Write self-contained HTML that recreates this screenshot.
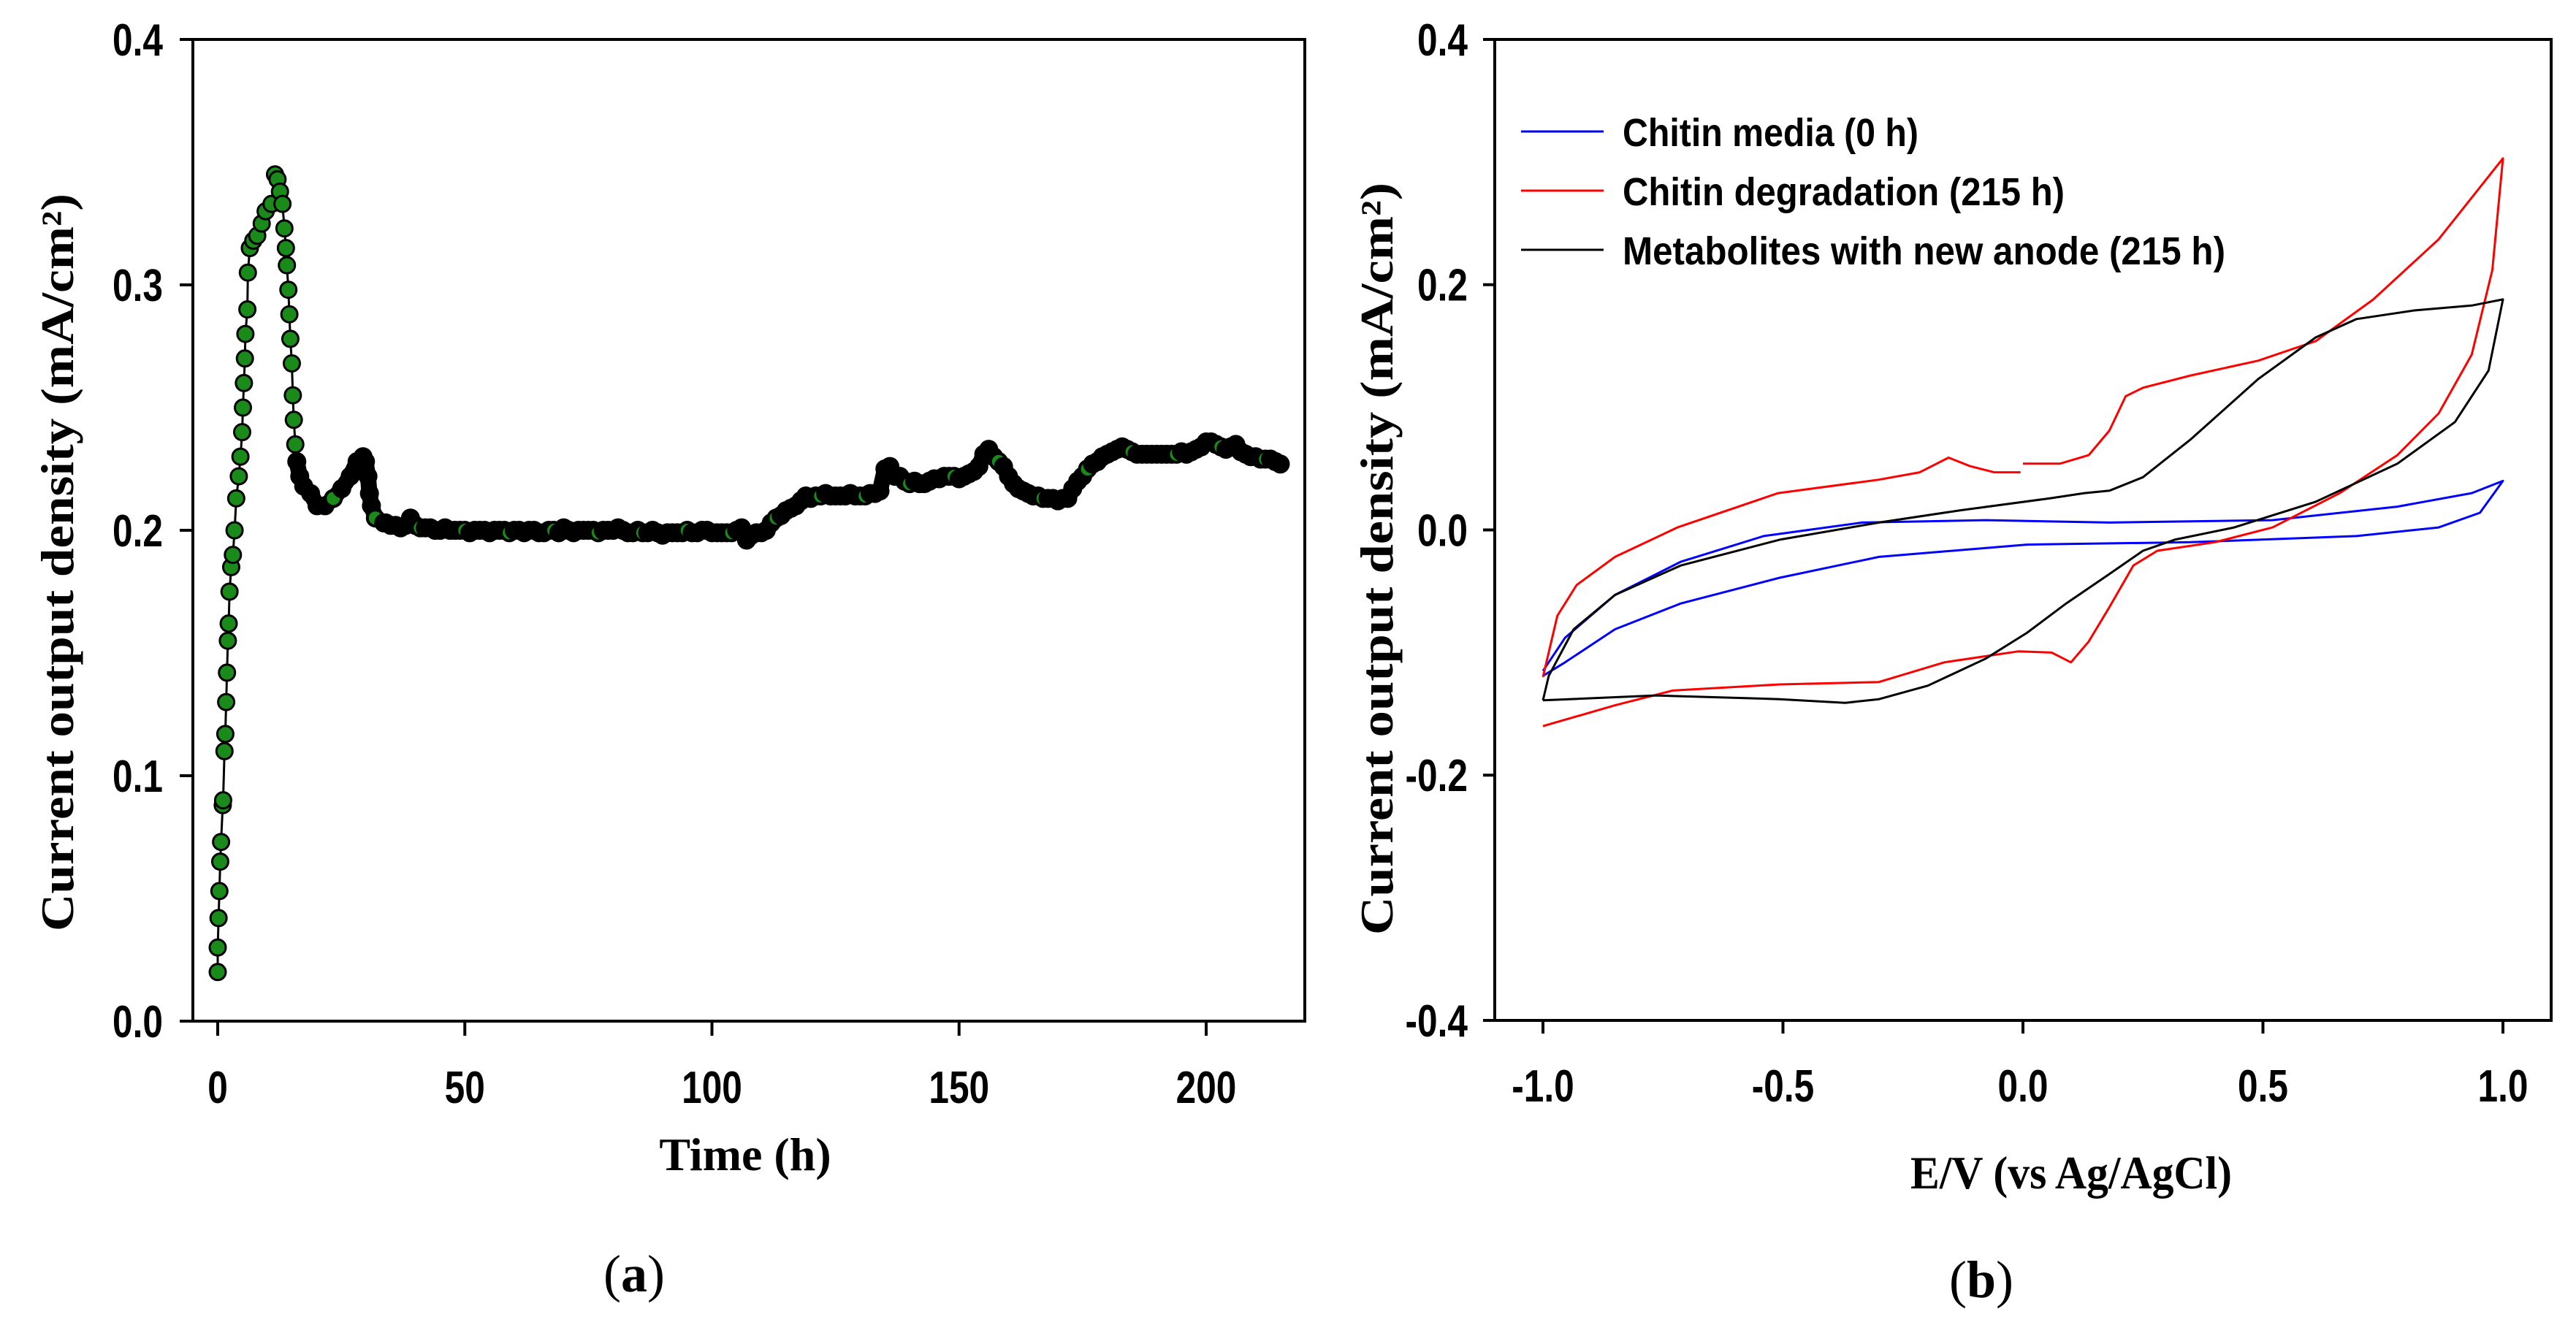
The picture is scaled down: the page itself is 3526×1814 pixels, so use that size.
<!DOCTYPE html>
<html><head><meta charset="utf-8"><style>
html,body{margin:0;padding:0;background:#fff;}
svg{display:block;}
.tk{font-family:"Liberation Sans",sans-serif;font-weight:bold;font-size:62px;fill:#000;}
.lg{font-family:"Liberation Sans",sans-serif;font-weight:bold;font-size:54px;fill:#000;}
.ti{font-family:"Liberation Serif",serif;font-weight:bold;font-size:64px;fill:#000;}
.cap{font-family:"Liberation Serif",serif;font-size:72px;fill:#000;}
</style></head><body>
<svg id="fig" width="3526" height="1814" viewBox="0 0 3526 1814" xmlns="http://www.w3.org/2000/svg">
<g id="pa"></g>
<g id="pb"></g>
</svg>
<script>
// ---------- Panel (a) data ----------
const aTimesEarly = [0,0,0.17,0.34,0.51,0.68,1.02,1.1,1.37,1.54,1.71,1.88,2.05,2.22,2.39,2.73,3.07,3.41,3.75,4.27,4.6,4.95,5.1,5.3,5.5,5.6,6.0,6.1,6.5,7.2,8.0,8.9,9.7,10.9,11.6,12.1,12.6,13.1,13.5,13.8,14.0,14.3,14.5,14.7,15.0,15.2,15.4,15.7,16.0,16.6,17.4,18.8,20.1,21.7,23.4,25.1,26.8,28.2,29.4,29.9,30.4,30.7,31.1,31.9,33.6];
const aValuesEarly = [0.020,0.030,0.042,0.053,0.065,0.073,0.088,0.090,0.110,0.117,0.130,0.142,0.155,0.162,0.175,0.185,0.190,0.200,0.213,0.222,0.230,0.240,0.250,0.260,0.270,0.280,0.290,0.305,0.315,0.318,0.320,0.325,0.330,0.333,0.345,0.343,0.338,0.333,0.323,0.315,0.308,0.298,0.288,0.278,0.268,0.255,0.245,0.235,0.228,0.222,0.218,0.215,0.210,0.210,0.213,0.217,0.222,0.228,0.230,0.228,0.222,0.215,0.210,0.205,0.203];
const aLateStart = 34;
const aValuesLate = [
.203,.202,.202,.201,.202,.205,
.202,.201,.201,.201,.200,.200,.201,.200,.200,.200,
.200,.199,.200,.200,.200,.199,.200,.200,.200,.199,
.200,.200,.199,.200,.200,.199,.199,.200,.200,.199,
.201,.200,.199,.200,.200,.200,.200,.199,.200,.200,
.200,.201,.200,.199,.199,.200,.199,.199,.200,.199,
.198,.199,.199,.199,.199,.200,.199,.199,.200,.200,
.199,.199,.199,.199,.199,.200,.201,.196,.198,.199,
.199,.200,.203,.205,.206,.208,.209,.210,.212,.214,
.213,.214,.214,.215,.214,.214,.214,.214,.215,.214,
.214,.214,.215,.215,.216,.225,.226,.222,.222,.220,
.219,.220,.219,.219,.220,.221,.221,.222,.222,.222,
.221,.222,.223,.224,.226,.231,.233,.230,.228,.226,
.222,.219,.217,.216,.215,.214,.214,.213,.213,.213,
.212,.213,.213,.217,.220,.222,.225,.227,.228,.230,
.231,.232,.233,.234,.233,.232,.231,.231,.231,.231,
.231,.231,.231,.231,.231,.232,.231,.232,.233,.234,
.236,.236,.235,.234,.233,.234,.235,.232,.231,.230,
.230,.229,.229,.229,.228,.227];
const aXTicks = [0,50,100,150,200];
const aYTicks = [0.0,0.1,0.2,0.3,0.4];
const aYTickLabels = ["0.0","0.1","0.2","0.3","0.4"];

// ---------- Panel (b) data ----------
const bXTicks = [-1.0,-0.5,0.0,0.5,1.0];
const bXTickLabels = ["-1.0","-0.5","0.0","0.5","1.0"];
const bYTicks = [-0.4,-0.2,0.0,0.2,0.4];
const bYTickLabels = ["-0.4","-0.2","0.0","0.2","0.4"];
const seriesNames = ["Chitin media (0 h)","Chitin degradation (215 h)","Metabolites with new anode (215 h)"];
const seriesColors = ["#0000ff","#ff0000","#000000"];
const blueE = [-1,-0.954,-0.85,-0.713,-0.54,-0.335,-0.078,0.18,0.52,0.78,0.935,1, 0.952,0.866,0.695,0.35,0.008,-0.30,-0.507,-0.713,-0.85,-0.954,-1];
const blueI = [-0.115,-0.088,-0.053,-0.026,-0.005,0.006,0.008,0.006,0.008,0.019,0.030,0.040, 0.014,0.002,-0.005,-0.010,-0.012,-0.022,-0.039,-0.060,-0.081,-0.108,-0.119];
const redE = [-1,-0.97,-0.93,-0.85,-0.72,-0.51,-0.30,-0.215,-0.155,-0.11,-0.06,-0.005,null,0.0,0.077,0.137,0.18,0.214,0.25,0.35,0.49,0.61,0.73,0.866,1.0, 0.978,0.935,0.866,0.78,0.66,0.52,0.40,0.28,0.23,0.18,0.137,0.10,0.06,-0.009,-0.078,-0.164,-0.30,-0.507,-0.73,-0.85,-1];
const redI = [-0.12,-0.07,-0.045,-0.022,0.002,0.030,0.041,0.047,0.059,0.052,0.047,0.047,null,0.054,0.054,0.061,0.081,0.109,0.116,0.126,0.138,0.154,0.188,0.237,0.303, 0.212,0.143,0.095,0.061,0.030,0.002,-0.010,-0.017,-0.029,-0.063,-0.091,-0.108,-0.100,-0.099,-0.103,-0.108,-0.124,-0.126,-0.131,-0.143,-0.160];
const blackE = [-1,-0.988,-0.936,-0.85,-0.713,-0.507,-0.30,-0.13,0.06,0.128,0.18,0.25,0.35,0.49,0.61,0.695,0.815,0.935,1.0, 0.97,0.9,0.78,0.61,0.44,0.316,0.25,0.18,0.09,0.008,-0.078,-0.198,-0.30,-0.37,-0.507,-0.765,-1];
const blackI = [-0.139,-0.119,-0.081,-0.053,-0.029,-0.008,0.006,0.016,0.026,0.030,0.032,0.043,0.074,0.123,0.157,0.172,0.179,0.183,0.188, 0.130,0.088,0.054,0.023,0.002,-0.008,-0.017,-0.036,-0.060,-0.084,-0.105,-0.127,-0.138,-0.141,-0.138,-0.135,-0.139];

const NS="http://www.w3.org/2000/svg";
function mk(parent,tag,attrs,text){
  const e=document.createElementNS(NS,tag);
  for(const k in attrs) e.setAttribute(k,attrs[k]);
  if(text!==undefined) e.textContent=text;
  parent.appendChild(e); return e;
}

// ---------- Panel (a) ----------
const pa=document.getElementById('pa');
const aL=264,aR=1786,aT=54,aB=1398;
const ax=t=>298+(t-0)*(1651-298)/200;
const ay=v=>aB-(v/0.4)*(aB-aT);
let f=mk(pa,'rect',{x:aL,y:aT,width:aR-aL,height:aB-aT,fill:'none',stroke:'#000','stroke-width':4});


aXTicks.forEach(t=>{
  let l=mk(pa,'line',{x1:ax(t),x2:ax(t),y1:aB,y2:aB+20,stroke:'#000','stroke-width':4});
  
  
  let tx=mk(pa,'text',{class:'tk',x:ax(t),y:1510,'text-anchor':'middle',transform:`translate(${ax(t)},0) scale(0.8,1) translate(${-ax(t)},0)`},String(t));
  
  
});
aYTicks.forEach((v,i)=>{
  let l=mk(pa,'line',{x1:aL-18,x2:aL,y1:ay(v),y2:ay(v),stroke:'#000','stroke-width':4});
  
  
  let tx=mk(pa,'text',{class:'tk',x:223,y:ay(v)+22,'text-anchor':'end',transform:`translate(223,0) scale(0.8,1) translate(-223,0)`},aYTickLabels[i]);
  
  
});
let at=mk(pa,'text',{class:'ti',x:1020,y:1602,'text-anchor':'middle'},'Time  (h)');


let ayt=mk(pa,'text',{class:'ti',x:0,y:0,'text-anchor':'middle',textLength:1010,lengthAdjust:'spacingAndGlyphs',transform:'translate(100,770) rotate(-90)'},'Current  output  density  (mA/cm²)');


let ca=mk(pa,'text',{class:'cap',x:868,y:1768,'text-anchor':'middle'});


mk(ca,'tspan',{},'(');mk(ca,'tspan',{'font-weight':'bold'},'a');mk(ca,'tspan',{},')');

const aT_all=aTimesEarly.concat(aValuesLate.map((_,i)=>aLateStart+i));
const aV_all=aValuesEarly.concat(aValuesLate);
let d='',dBand='';
let started=false;
aT_all.forEach((t,i)=>{
  const p=ax(t).toFixed(1)+' '+ay(aV_all[i]).toFixed(1);
  d+=(i?'L':'M')+p;
  if(t>=16){dBand+=(started?'L':'M')+p;started=true;}
});
let ln=mk(pa,'path',{d:d,fill:'none',stroke:'#000','stroke-width':3});


let band=mk(pa,'path',{d:dBand,fill:'none',stroke:'#000','stroke-width':22,'stroke-linejoin':'round','stroke-linecap':'round'});


const mg=mk(pa,'g',{});


aT_all.forEach((t,i)=>{
  const dense=t>=16;
  const green=!dense||(i%9===0);
  let c=mk(mg,'circle',{cx:ax(t),cy:ay(aV_all[i]),r:dense?11:11,fill:green?'#1a8a1a':'#000',stroke:'#000','stroke-width':dense?4:3});
  
  
});

// ---------- Panel (b) ----------
const pb=document.getElementById('pb');
const bL=2046,bR=3492,bT=54,bB=1397;
const bx=e=>2112+(e+1)*(3426-2112)/2;
const by=v=>bB-((v+0.4)/0.8)*(bB-bT);
let fb=mk(pb,'rect',{x:bL,y:bT,width:bR-bL,height:bB-bT,fill:'none',stroke:'#000','stroke-width':4});


bXTicks.forEach((e,i)=>{
  let l=mk(pb,'line',{x1:bx(e),x2:bx(e),y1:bB,y2:bB+18,stroke:'#000','stroke-width':4});
  
  
  let tx=mk(pb,'text',{class:'tk',x:bx(e),y:1508,'text-anchor':'middle',transform:`translate(${bx(e)},0) scale(0.8,1) translate(${-bx(e)},0)`},bXTickLabels[i]);
  
  
});
bYTicks.forEach((v,i)=>{
  let l=mk(pb,'line',{x1:bL-16,x2:bL,y1:by(v),y2:by(v),stroke:'#000','stroke-width':4});
  
  
  let tx=mk(pb,'text',{class:'tk',x:2009,y:by(v)+22,'text-anchor':'end',transform:`translate(2009,0) scale(0.8,1) translate(-2009,0)`},bYTickLabels[i]);
  
  
});
let bxt=mk(pb,'text',{class:'ti',x:2835,y:1627,'text-anchor':'middle',textLength:440,lengthAdjust:'spacingAndGlyphs'},'E/V (vs Ag/AgCl)');


let byt=mk(pb,'text',{class:'ti',x:0,y:0,'text-anchor':'middle',textLength:1030,lengthAdjust:'spacingAndGlyphs',transform:'translate(1906,765) rotate(-90)'},'Current  output  density  (mA/cm²)');


let cb=mk(pb,'text',{class:'cap',x:2712,y:1776,'text-anchor':'middle'});


mk(cb,'tspan',{},'(');mk(cb,'tspan',{'font-weight':'bold'},'b');mk(cb,'tspan',{},')');

function cvPath(E,I){
  let s='',pen=false;
  E.forEach((e,i)=>{
    if(e===null||I[i]===null){pen=false;return;}
    s+=(pen?'L':'M')+bx(e).toFixed(1)+' '+by(I[i]).toFixed(1);pen=true;
  });
  return s;
}
let sb=mk(pb,'path',{d:cvPath(blueE,blueI),fill:'none',stroke:seriesColors[0],'stroke-width':3,'stroke-linejoin':'round'});


let sr=mk(pb,'path',{d:cvPath(redE,redI),fill:'none',stroke:seriesColors[1],'stroke-width':3,'stroke-linejoin':'round'});


let sk=mk(pb,'path',{d:cvPath(blackE,blackI),fill:'none',stroke:seriesColors[2],'stroke-width':3,'stroke-linejoin':'round'});



const legY=[180,261,342];
const legLen=[405,605,825];
seriesNames.forEach((n,i)=>{
  let g=mk(pb,'g',{});
  
  
  mk(g,'line',{x1:2082,x2:2195,y1:legY[i],y2:legY[i],stroke:seriesColors[i],'stroke-width':3});
  mk(g,'text',{class:'lg',x:2221,y:legY[i]+20,textLength:legLen[i],lengthAdjust:'spacingAndGlyphs'},n);
});
</script>
</body></html>
